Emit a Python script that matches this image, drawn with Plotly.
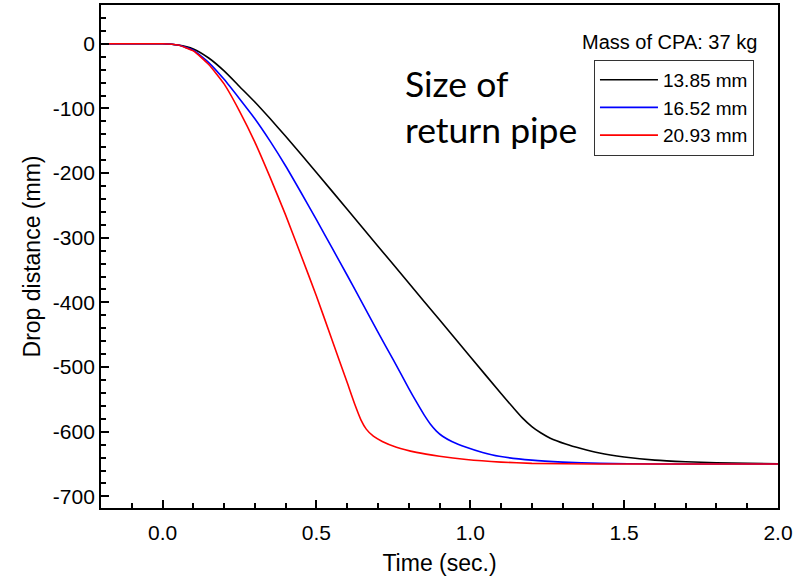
import plotly.graph_objects as go

# ---- data ----
t_black = [-0.2, -0.1, 0.0, 0.05, 0.1, 0.15, 0.2, 0.25, 0.3, 0.35, 0.4, 0.5, 0.6, 0.7, 0.8, 0.9, 1.0, 1.1, 1.14, 1.17, 1.2, 1.23, 1.26, 1.31, 1.36, 1.42, 1.5, 1.6, 1.7, 1.8, 1.9, 2.0]
d_black = [0, 0, 0, -2, -8, -22, -42, -66, -90, -116, -143, -199, -256, -313, -370, -427, -484, -541, -563, -579, -592, -602, -610, -619, -626, -633, -639, -644, -646.5, -648, -649, -649.5]

t_blue = [-0.2, -0.1, 0.0, 0.05, 0.1, 0.15, 0.2, 0.25, 0.3, 0.35, 0.4, 0.45, 0.5, 0.55, 0.6, 0.65, 0.7, 0.75, 0.8, 0.825, 0.85, 0.87, 0.89, 0.91, 0.94, 0.987, 1.04, 1.094, 1.2, 1.3, 1.42, 1.6, 2.0]
d_blue = [0, 0, 0, -2, -10, -29, -55, -85, -116, -151, -189, -230, -272, -315, -358, -402, -446, -489, -533, -554, -574, -588, -599, -607, -615, -624, -632, -638, -644, -647, -649, -650, -650]

t_red = [-0.2, -0.1, 0.0, 0.05, 0.1, 0.15, 0.2, 0.25, 0.3, 0.35, 0.4, 0.45, 0.5, 0.55, 0.6, 0.625, 0.645, 0.662, 0.685, 0.714, 0.76, 0.825, 0.9, 0.987, 1.1, 1.2, 1.4, 2.0]
d_red = [0, 0, 0, -2, -11, -32, -62, -104, -152, -207, -265, -327, -390, -457, -524, -558, -582, -596, -607, -615, -624, -632, -638, -643, -647, -649, -650, -650]

series_names = ["13.85 mm", "16.52 mm", "20.93 mm"]
series_colors = ["#000000", "#0000FF", "#FF0000"]

x_tickvals = [0.0, 0.5, 1.0, 1.5, 2.0]
x_ticktext = ["0.0", "0.5", "1.0", "1.5", "2.0"]
y_tickvals = [0, -100, -200, -300, -400, -500, -600, -700]
y_ticktext = ["0", "-100", "-200", "-300", "-400", "-500", "-600", "-700"]

FONT = "Liberation Sans, Arial, sans-serif"

fig = go.Figure()
for t, d, name, col in zip([t_black, t_blue, t_red], [d_black, d_blue, d_red], series_names, series_colors):
    fig.add_trace(go.Scatter(x=t, y=d, mode="lines", name=name,
                             line=dict(color=col, width=1.6, shape="spline", smoothing=0.5)))

axis_common = dict(
    showline=True, linecolor="black", linewidth=1.8, mirror=True,
    ticks="inside", ticklen=8, tickwidth=1.5, tickcolor="black",
    showgrid=False, zeroline=False, automargin=False,
    tickfont=dict(family=FONT, size=21, color="black"),
)

fig.update_xaxes(
    range=[-0.2, 2.0], tickvals=x_tickvals, ticktext=x_ticktext,
    minor=dict(dtick=0.1, tick0=0, ticks="inside", ticklen=5, tickwidth=1.5, tickcolor="black", showgrid=False),
    ticklabelstandoff=5,
    title=dict(text="Time (sec.)", font=dict(family=FONT, size=23, color="black"), standoff=14),
    **axis_common,
)
fig.update_yaxes(
    range=[-718, 60], tickvals=y_tickvals, ticktext=y_ticktext,
    minor=dict(dtick=20, tick0=0, ticks="inside", ticklen=5, tickwidth=1.5, tickcolor="black", showgrid=False),
    title=dict(text="Drop distance (mm)", font=dict(family=FONT, size=23, color="black"), standoff=6),
    **axis_common,
)

fig.update_layout(
    width=804, height=576,
    margin=dict(l=101, r=26, t=5, b=68, autoexpand=False),
    plot_bgcolor="white", paper_bgcolor="white",
    showlegend=True,
    legend=dict(
        x=0.9645, y=0.891, xanchor="right", yanchor="top",
        bordercolor="#333333", borderwidth=1, bgcolor="white",
        font=dict(family=FONT, size=19, color="black"),
        tracegroupgap=0, itemwidth=58,
    ),
    annotations=[
        dict(text="Mass of CPA: 37 kg", x=0.972, y=0.927, xref="paper", yref="paper",
             xanchor="right", yanchor="middle", showarrow=False,
             font=dict(family=FONT, size=20, color="black")),
        dict(text="Size of<br>return pipe", x=0.4466, y=0.798, xref="paper", yref="paper",
             xanchor="left", yanchor="middle", align="left", showarrow=False,
             font=dict(family="Lato, sans-serif", size=35.5, color="black")),
    ],
)

fig.write_html("out.html")
